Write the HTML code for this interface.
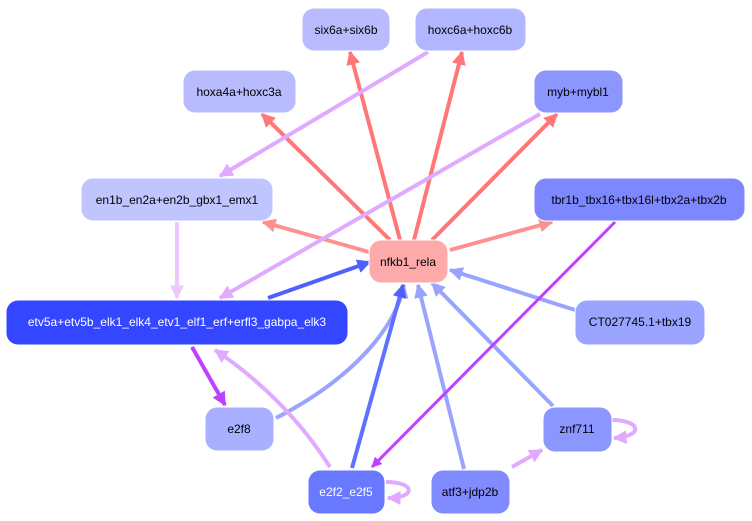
<!DOCTYPE html>
<html><head><style>body{margin:0;background:#fff}svg{display:block}text{font-family:"Liberation Sans",sans-serif;font-size:12px;text-anchor:middle;dominant-baseline:central}</style></head><body>
<svg width="752" height="521" viewBox="0 0 752 521">
<defs>
<marker id="r" viewBox="0 0 10 10" refX="9" refY="5" markerWidth="3.5" markerHeight="3.5" orient="auto"><path d="M0,0L10,5L0,10z" fill="#ff7777"/></marker>
<marker id="rl" viewBox="0 0 10 10" refX="9" refY="5" markerWidth="3.5" markerHeight="3.5" orient="auto"><path d="M0,0L10,5L0,10z" fill="#ff9090"/></marker>
<marker id="p" viewBox="0 0 10 10" refX="9" refY="5" markerWidth="3.5" markerHeight="3.5" orient="auto"><path d="M0,0L10,5L0,10z" fill="#e0aaff"/></marker>
<marker id="pd" viewBox="0 0 10 10" refX="9" refY="5" markerWidth="3.5" markerHeight="3.5" orient="auto"><path d="M0,0L10,5L0,10z" fill="#c040ff"/></marker>
<marker id="b" viewBox="0 0 10 10" refX="9" refY="5" markerWidth="3.5" markerHeight="3.5" orient="auto"><path d="M0,0L10,5L0,10z" fill="#5060ff"/></marker>
<marker id="bl" viewBox="0 0 10 10" refX="9" refY="5" markerWidth="3.5" markerHeight="3.5" orient="auto"><path d="M0,0L10,5L0,10z" fill="#9aa4ff"/></marker>
<marker id="pl" viewBox="0 0 10 10" refX="9" refY="5" markerWidth="3.5" markerHeight="3.5" orient="auto"><path d="M0,0L10,5L0,10z" fill="#ecc8ff"/></marker>
</defs>
<g fill="none" stroke-width="4">
<path d="M400,240L350,52" stroke="#ff7777" marker-end="url(#r)"/>
<path d="M414,240L462,52" stroke="#ff7777" marker-end="url(#r)"/>
<path d="M390,240L262,114" stroke="#ff7777" marker-end="url(#r)"/>
<path d="M432,240L557,114" stroke="#ff7777" marker-end="url(#r)"/>
<path d="M369,252L263,222" stroke="#ff9090" marker-end="url(#rl)"/>
<path d="M450,250L552,222" stroke="#ff9090" marker-end="url(#rl)"/>
<path d="M428,52L220,176" stroke="#e0aaff" marker-end="url(#p)"/>
<path d="M540,114L220,298" stroke="#e0aaff" marker-end="url(#p)"/>
<path d="M177,222L177,298" stroke="#ecc8ff" marker-end="url(#pl)"/>
<path d="M268,298L370,262" stroke="#5060ff" marker-end="url(#b)"/>
<path d="M575,310L450,270" stroke="#9aa4ff" marker-end="url(#bl)"/>
<path d="M553,406L432,283" stroke="#9aa4ff" marker-end="url(#bl)"/>
<path d="M464,469L418,285" stroke="#9aa4ff" marker-end="url(#bl)"/>
<path d="M276,418C350,380 395,330 404,285" stroke="#9aa4ff" marker-end="url(#bl)"/>
<path d="M352,468L403,285" stroke="#6070ff" marker-end="url(#b)"/>
<path d="M615,222L372,467" stroke="#c040ff" stroke-width="3" marker-end="url(#pd)"/>
<path d="M192,347L225,405" stroke="#c040ff" marker-end="url(#pd)"/>
<path d="M330,467C300,420 260,380 215,350" stroke="#e0aaff" marker-end="url(#p)"/>
<path d="M512,467L542,450" stroke="#e0aaff" marker-end="url(#p)"/>
<path d="M612,420C640,420 645,436 614,438" stroke="#e0aaff" marker-end="url(#p)"/>
<path d="M386,482C416,482 416,498 388,498" stroke="#e0aaff" marker-end="url(#p)"/>
</g>
<g stroke="#fff" stroke-width="1">
<rect x="302" y="8" width="88" height="43" rx="12" fill="#b8bcff"/>
<rect x="415" y="8" width="111" height="43" rx="12" fill="#b0b6ff"/>
<rect x="183" y="70" width="113" height="43" rx="12" fill="#b8bcff"/>
<rect x="534" y="70" width="89" height="43" rx="12" fill="#8c96ff"/>
<rect x="81" y="178" width="192" height="43" rx="12" fill="#c0c4ff"/>
<rect x="534" y="178" width="211" height="43" rx="12" fill="#7d88ff"/>
<rect x="369" y="240" width="79" height="43" rx="12" fill="#ffaaaa"/>
<rect x="6" y="300" width="342" height="45" rx="12" fill="#3446ff"/>
<rect x="575" y="300" width="130" height="45" rx="12" fill="#9aa4ff"/>
<rect x="205" y="407" width="69" height="44" rx="12" fill="#a8b0ff"/>
<rect x="543" y="407" width="69" height="45" rx="12" fill="#8c96ff"/>
<rect x="308" y="470" width="77" height="44" rx="12" fill="#6878ff"/>
<rect x="431" y="470" width="79" height="44" rx="12" fill="#7f8bff"/>
</g>
<g fill="#000">
<text x="346" y="30">six6a+six6b</text>
<text x="470" y="30">hoxc6a+hoxc6b</text>
<text x="239" y="92">hoxa4a+hoxc3a</text>
<text x="578" y="92">myb+mybl1</text>
<text x="177" y="200">en1b_en2a+en2b_gbx1_emx1</text>
<text x="639" y="200">tbr1b_tbx16+tbx16l+tbx2a+tbx2b</text>
<text x="408" y="262">nfkb1_rela</text>
<text x="177" y="322" fill="#fff">etv5a+etv5b_elk1_elk4_etv1_elf1_erf+erfl3_gabpa_elk3</text>
<text x="640" y="322">CT027745.1+tbx19</text>
<text x="239" y="429">e2f8</text>
<text x="577" y="429">znf711</text>
<text x="346" y="492" fill="#fff">e2f2_e2f5</text>
<text x="470" y="492">atf3+jdp2b</text>
</g>
</svg>
</body></html>
